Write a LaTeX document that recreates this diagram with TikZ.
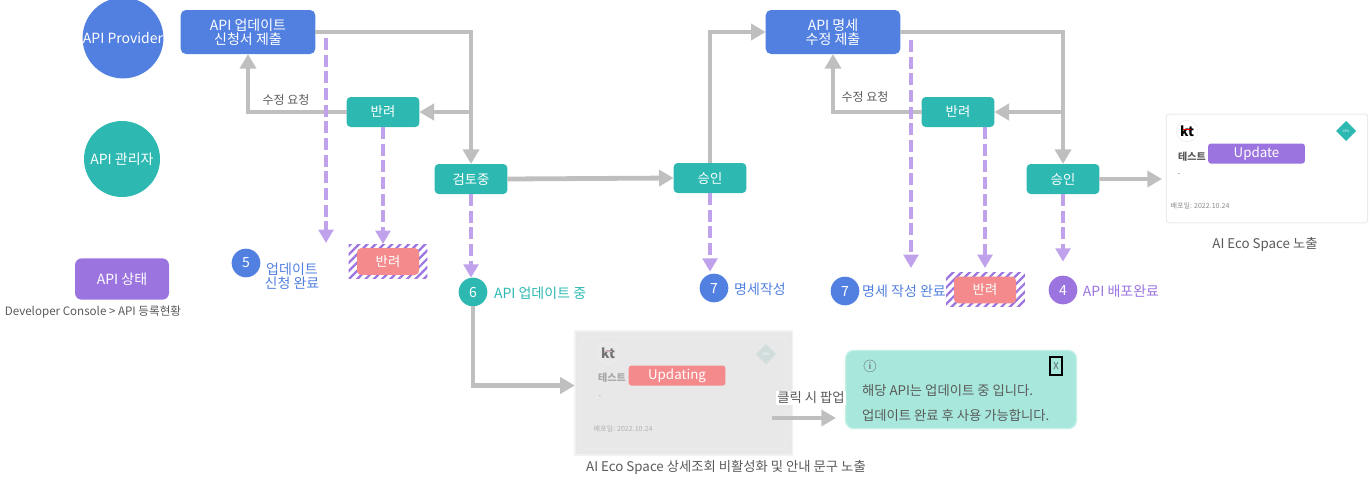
\documentclass[tikz,border=0pt]{standalone}
\usepackage{fontspec}
\setmainfont{Noto Sans CJK KR}
\usetikzlibrary{arrows.meta,shapes.geometric,patterns.meta,calc}
\definecolor{blueC}{HTML}{5280E0}
\definecolor{tealC}{HTML}{2DB9B2}
\definecolor{purpC}{HTML}{9B74E0}
\definecolor{pinkC}{HTML}{F48A8C}
\definecolor{dashC}{HTML}{C0A2EC}
\definecolor{flowC}{HTML}{BFBFBF}
\definecolor{txtC}{HTML}{5A5A5A}
\definecolor{popC}{HTML}{A8E8DC}
\newcommand{\fs}[1]{\fontsize{#1}{#1}\selectfont}
\tikzset{
  x=0.75pt,y=-0.75pt,
  every node/.style={inner sep=0pt,outer sep=0pt,align=center},
  role/.style={circle,minimum size=57pt,text=white,font=\fs{10.5}},
  subbox/.style={rounded corners=4pt,fill=blueC,text=white,minimum width=101pt,minimum height=33pt,font=\fs{10.5}\linespread{1.15}},
  state/.style={rounded corners=3pt,fill=tealC,text=white,minimum width=54.5pt,minimum height=22.5pt,font=\fs{10}},
  num/.style={circle,minimum size=21.5pt,text=white,font=\fs{10.5}},
  rej/.style={rounded corners=3pt,fill=pinkC,text=white,minimum width=46.5pt,minimum height=20pt,font=\fs{10}},
  hatch/.style={minimum width=59pt,minimum height=25.5pt,pattern={Lines[angle=45,distance=4.4pt,line width=1.7pt]},pattern color=purpC},
  flow/.style={draw=flowC,line width=3.6pt,-{Triangle[length=11pt,width=12pt]}},
  flowplain/.style={draw=flowC,line width=3.6pt},
  dash/.style={},
  purpdash/.style={draw=dashC,line width=3pt,dash pattern=on 9pt off 3.5pt,-{Triangle[length=10pt,width=11pt]}},
  lab/.style={text=txtC,font=\fs{10}},
  badge/.style={rounded corners=2pt,text=white,minimum width=72.5pt,minimum height=15pt,font=\fs{10}},
  tiny/.style={font=\fs{5},text=#1},
  kt/.style={circle,minimum size=16pt,font=\bfseries\fs{10}},
  gpu/.style={diamond,minimum size=15pt,text=white,font=\fs{2.5}},
}
\begin{document}
\begin{tikzpicture}
\useasboundingbox (0,0) rectangle (1371,487);
% roles
\node[role,fill=blueC] (prov) at (123,38) {API Provider};
\node[role,fill=tealC] (adm) at (122,159) {API 관리자};
\node[rounded corners=5pt,fill=purpC,text=white,minimum width=70.5pt,minimum height=31pt,font=\fs{10.5}] (stat) at (122,279) {API 상태};
\node[text=txtC,font=\fs{8.7}] (dev) at (93,312) {Developer Console > API 등록현황};
% first flow
\node[subbox] (b1) at (248,32) {API 업데이트\\신청서 제출};
\node[state] (r1) at (383,112) {반려};
\node[state] (rev) at (471,179) {검토중};
\node[state] (a1) at (710,178) {승인};
\node[subbox] (b2) at (833,32) {API 명세\\수정 제출};
\node[state] (r2) at (958,112) {반려};
\node[state] (a2) at (1063,179) {승인};
\node[lab,font=\fs{9}] (q1) at (286,100) {수정 요청};
\node[lab,font=\fs{9}] (q2) at (865,97) {수정 요청};
% status row
\node[num,fill=blueC] (n5) at (246,263) {5};
\node[text=blueC,font=\fs{10.5}\linespread{1.75}] (t5) at (292,276) {업데이트\\신청 완료};
\node[hatch] (h1) at (388,261) {};
\node[rej] (s1) at (388,261.5) {반려};
\node[num,fill=tealC] (n6) at (473,292) {6};
\node[text=tealC,anchor=west,font=\fs{10.5}] (t6) at (494,293) {API 업데이트 중};
\node[num,fill=blueC] (n7a) at (714,288) {7};
\node[text=blueC,font=\fs{10.5}] (t7a) at (760,289) {명세작성};
\node[num,fill=blueC] (n7b) at (845,291) {7};
\node[text=blueC,font=\fs{10.5}] (t7b) at (904,291) {명세 작성 완료};
\node[hatch] (h2) at (985.5,289) {};
\node[rej] (s2) at (985,290) {반려};
\node[num,fill=purpC] (n4) at (1063,290) {4};
\node[text=purpC,font=\fs{10.5}] (t4) at (1121,291) {API 배포완료};
% live card
\node[draw=black!8,line width=0.8pt,rounded corners=2pt,fill=white,minimum width=151pt,minimum height=81.5pt] (c2) at (1267,168.5) {};
\node[kt,draw=black!8,fill=white] (k2) at (1187,131) {kt};
\fill[red] (1183,128.5) rectangle (1191,129.5);
\node[gpu,fill=tealC] (g2) at (1346,131) {GPU};
\node[text=txtC,font=\bfseries\fs{7.5}] (d2) at (1192,157) {테스트};
\node[badge,fill=purpC] (u2) at (1256.5,153.5) {Update};
\node[font=\fs{6},text=txtC] (p2) at (1179,174) {.};
\node[text=black!45,font=\fs{5.3}] (e2) at (1200,206) {배포일: 2022.10.24};
\node[text=txtC,font=\fs{10}] (cap2) at (1265,244) {AI Eco Space 노출};
% grey card
\node[fill=black!9,draw=black!5,line width=1pt,minimum width=163pt,minimum height=93pt] (c1) at (683.5,393) {};
\node[draw=black!6,rounded corners=3pt,minimum width=154pt,minimum height=84pt] (c1i) at (683.5,393) {};
\node[kt,draw=black!6,fill=black!9,text=black!55] (k1) at (608,353) {kt};
\fill[red!50!black!30] (604,350.5) rectangle (612,351.5);
\node[gpu,fill=tealC!45!black!20] (g1) at (766,354) {GPU};
\node[text=black!35,font=\bfseries\fs{7.5}] (d1) at (612,378) {테스트};
\node[badge,fill=pinkC] (u1) at (677,375.5) {Updating};
\node[font=\fs{6},text=black!40] (p1) at (600,396) {.};
\node[text=black!30,font=\fs{5.3}] (e1) at (623,429) {배포일: 2022.10.24};
\node[text=txtC,font=\fs{10}] (cap1) at (726,467) {AI Eco Space 상세조회 비활성화 및 안내 문구 노출};
% popup
\node[fill=popC,draw=popC!70!white,line width=1pt,rounded corners=6pt,minimum width=173pt,minimum height=58.5pt] (pop) at (961,389.5) {};
\node[text=txtC,font=\fs{10}] (inf) at (870,366) {ⓘ};
\node[draw=black,line width=1.5pt,minimum width=9.5pt,minimum height=14pt,text=txtC,font=\fs{7}] (xx) at (1056,366) {X};
\node[text=txtC,anchor=west,font=\fs{10}] (m1) at (862,391) {해당 API는 업데이트 중 입니다.};
\node[text=txtC,anchor=west,font=\fs{10}] (m2) at (862,415) {업데이트 완료 후 사용 가능합니다.};
\node[fill=white,text=txtC,font=\fs{10},inner sep=1pt] (cl) at (811,398) {클릭 시 팝업};
% free ends
\coordinate (f1) at (326,38);
\coordinate (f1e) at (326,243);
\coordinate (f2) at (911,40);
\coordinate (f2e) at (911,268);
\coordinate (g1a) at (772,418);
\coordinate (g1b) at (836,418);
\coordinate (lc) at (1162,179);
% grey connectors
\draw[flow] (b1.east) -| (rev.north);
\draw[flow] (r1.east -| rev.north) -- (r1.east);
\draw[flow] (r1.west) -| (b1.south);
\draw[flow] (rev.east) -- (a1.west);
\draw[flow] (a1.north) |- (b2.west);
\draw[flow] (b2.east) -| (a2.north);
\draw[flow] (r2.east -| a2.north) -- (r2.east);
\draw[flow] (r2.west) -| (b2.south);
\draw[flow] (a2.east) -- (lc);
\draw[flow] (n6.south) |- (c1.west |- u1.south);
\draw[flow] (g1a) -- (g1b);
% purple connectors
\draw[purpdash] (f1) -- (f1e);
\draw[purpdash] (r1.south) -- (h1.north -| r1.south);
\draw[purpdash] (rev.south) -- (n6.north -| rev.south);
\draw[purpdash] (a1.south) -- ($(n7a.north -| a1.south)+(0,-2)$);
\draw[purpdash] (f2) -- (f2e);
\draw[purpdash] ($(r2.south)+(27,0)$) -- ($(h2.north -| r2.south)+(27,-4)$);
\draw[purpdash] (a2.south) -- ($(n4.north)+(0,-14)$);
\end{tikzpicture}
\end{document}
